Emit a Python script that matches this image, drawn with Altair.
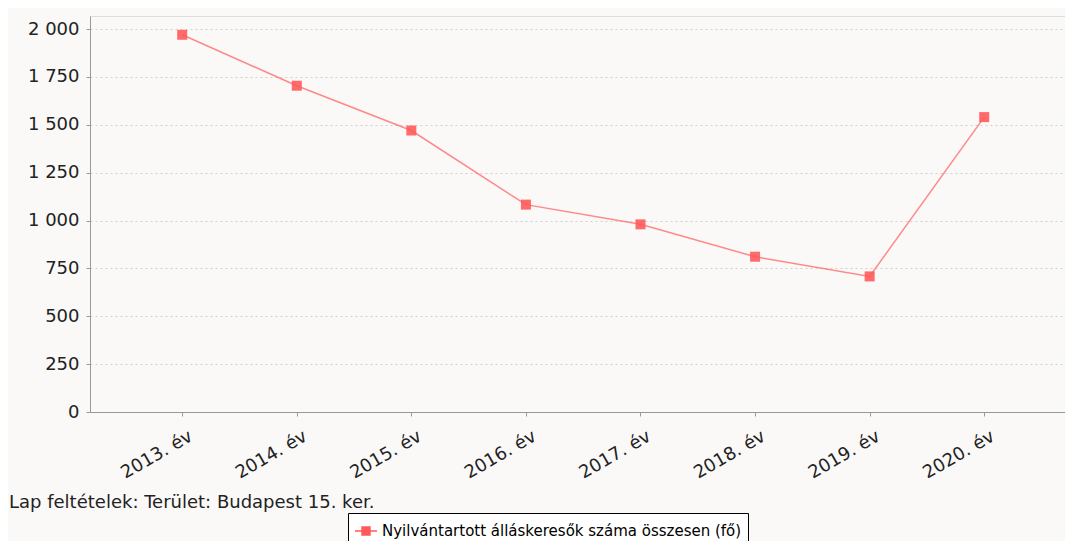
import altair as alt
import pandas as pd

years = ["2013. év", "2014. év", "2015. év", "2016. év", "2017. év", "2018. év", "2019. év", "2020. év"]
values = [1970, 1704, 1470, 1083, 980, 811, 708, 1540]
series_name = "Nyilvántartott álláskeresők száma összesen (fő)"
caption = "Lap feltételek: Terület: Budapest 15. ker."
y_ticks = [0, 250, 500, 750, 1000, 1250, 1500, 1750, 2000]

df = pd.DataFrame({"year": years, "value": values, "series": [series_name] * len(years)})
cap_df = pd.DataFrame({"t": [caption]})

RED = "#FF5A5A"
FONT = "DejaVu Sans"

x_enc = alt.X(
    "year:N",
    sort=years,
    scale=alt.Scale(type="point", padding=0.755, align=0.533),
    axis=alt.Axis(
        title=None, labelAngle=-30, labelAlign="right", labelBaseline="top",
        labelFontSize=18, labelPadding=11, labelOffset=4, tickSize=4,
        domainColor="#999999", tickColor="#999999", labelColor="#222222", grid=False,
    ),
)
y_enc = alt.Y(
    "value:Q",
    scale=alt.Scale(domain=[0, 2068], nice=False, zero=True),
    axis=alt.Axis(
        title=None, values=y_ticks,
        labelExpr="replace(format(datum.value, ','), ',', ' ')",
        labelFontSize=18, labelPadding=7, tickSize=4, labelColor="#222222",
        domainColor="#999999", tickColor="#999999",
        grid=True, gridDash=[2, 3], gridColor="#d0d0d0",
    ),
)

color_scale = alt.Scale(domain=[series_name], range=[RED])

line = alt.Chart(df).mark_line(strokeWidth=1.5, opacity=0.7).encode(
    x=x_enc, y=y_enc,
    color=alt.Color(
        "series:N", scale=color_scale,
        legend=alt.Legend(
            title=None, orient="none", legendX=258, legendY=497,
            strokeColor="black", fillColor="white", padding=6,
            symbolType="M-1,0L1,0M-0.36,-0.36L0.36,-0.36L0.36,0.36L-0.36,0.36Z",
            symbolSize=484, symbolStrokeWidth=1.5, symbolFillColor=RED,
            symbolOpacity=1, labelFontSize=15, labelFont=FONT, labelColor="black",
            labelOffset=4, labelLimit=0,
        ),
    ),
)

points = alt.Chart(df).mark_point(shape="square", filled=True, size=100, opacity=0.9).encode(
    x=x_enc, y=y_enc,
    color=alt.Color("series:N", scale=color_scale, legend=None),
)

cap = alt.Chart(cap_df).mark_text(
    align="left", baseline="alphabetic", fontSize=18, font=FONT, color="#222222"
).encode(x=alt.value(-81), y=alt.value(491.5), text="t:N")

chart = alt.layer(line, points, cap).properties(
    width=975, height=396,
    autosize="none",
    padding={"left": 82, "top": 8, "right": 0, "bottom": 129},
    background="#FAF9F8",
).configure_view(stroke=None).configure(font=FONT)

chart.save("out.html", embed_options={"renderer": "svg", "actions": False})
